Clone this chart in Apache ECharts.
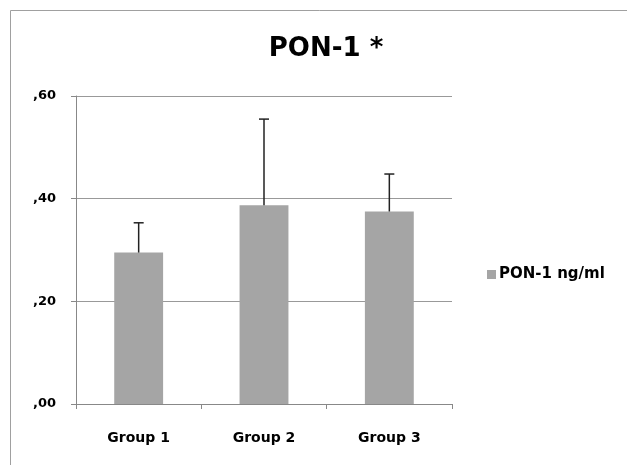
<!DOCTYPE html>
<html><head><meta charset="utf-8">
<script src="https://cdn.jsdelivr.net/npm/echarts@6/dist/echarts.min.js"></script>
<style>html,body{margin:0;padding:0;background:#fff}#c{width:627px;height:465px}</style>
</head><body><div id="c"></div>
<script>
const categories = ['Group 1', 'Group 2', 'Group 3'];
const means = [0.295, 0.387, 0.375];
const errTops = [0.353, 0.555, 0.448];
const yTicks = [0, 0.2, 0.4, 0.6];

const font = 'DejaVu Sans, sans-serif';
const chart = echarts.init(document.getElementById('c'), null, {renderer: 'canvas'});
chart.setOption({
  backgroundColor: '#fff',
  animation: false,
  title: {
    text: 'PON-1 *', left: 321, top: 31, textAlign: 'center',
    textStyle: {fontFamily: font, fontWeight: 'bold', fontSize: 26, color: '#000'}
  },
  graphic: [{
    type: 'polyline', shape: {points: [[10.5, 470], [10.5, 10.5], [640, 10.5]]},
    style: {fill: 'none', stroke: '#a0a0a0', lineWidth: 1}, silent: true
  }],
  legend: {
    left: 482, top: 262, itemWidth: 9, itemHeight: 9, itemGap: 4,
    icon: 'rect',
    textStyle: {fontFamily: font, fontWeight: 'bold', fontSize: 15, color: '#000', padding: [0,0,0,-2]},
    data: ['PON-1 ng/ml']
  },
  grid: {left: 76, right: 175, top: 96, bottom: 61, containLabel: false},
  xAxis: {
    type: 'category', data: categories,
    axisLine: {lineStyle: {color: '#888', width: 1}},
    axisTick: {show: true, length: 5, lineStyle: {color: '#888'}},
    axisLabel: {fontFamily: font, fontWeight: 'bold', fontSize: 14, color: '#000', margin: 27}
  },
  yAxis: {
    type: 'value', min: 0, max: 0.6, interval: 0.2,
    axisLine: {show: true, lineStyle: {color: '#888', width: 1}},
    axisTick: {show: true, length: 5, lineStyle: {color: '#888'}},
    splitLine: {lineStyle: {color: '#999', width: 1}},
    axisLabel: {
      fontFamily: font, fontWeight: 'bold', fontSize: 13, color: '#000', margin: 20,
      formatter: v => ',' + v.toFixed(2).split('.')[1]
    }
  },
  series: [{
    name: 'PON-1 ng/ml', type: 'bar', data: means, barWidth: '39%',
    itemStyle: {color: '#a5a5a5'}, z: 2
  }, {
    name: 'err', type: 'custom', z: 3,
    data: categories.map((c, i) => [i, means[i], errTops[i]]),
    renderItem: (params, api) => {
      const x = api.coord([api.value(0), api.value(1)])[0];
      const yb = api.coord([api.value(0), api.value(1)])[1];
      const yt = api.coord([api.value(0), api.value(2)])[1];
      const st = {stroke: '#222', lineWidth: 1.5};
      return {type: 'group', children: [
        {type: 'line', shape: {x1: x, y1: yb, x2: x, y2: yt}, style: st},
        {type: 'line', shape: {x1: x - 5, y1: yt, x2: x + 5, y2: yt}, style: st}
      ]};
    }
  }]
});
</script></body></html>
